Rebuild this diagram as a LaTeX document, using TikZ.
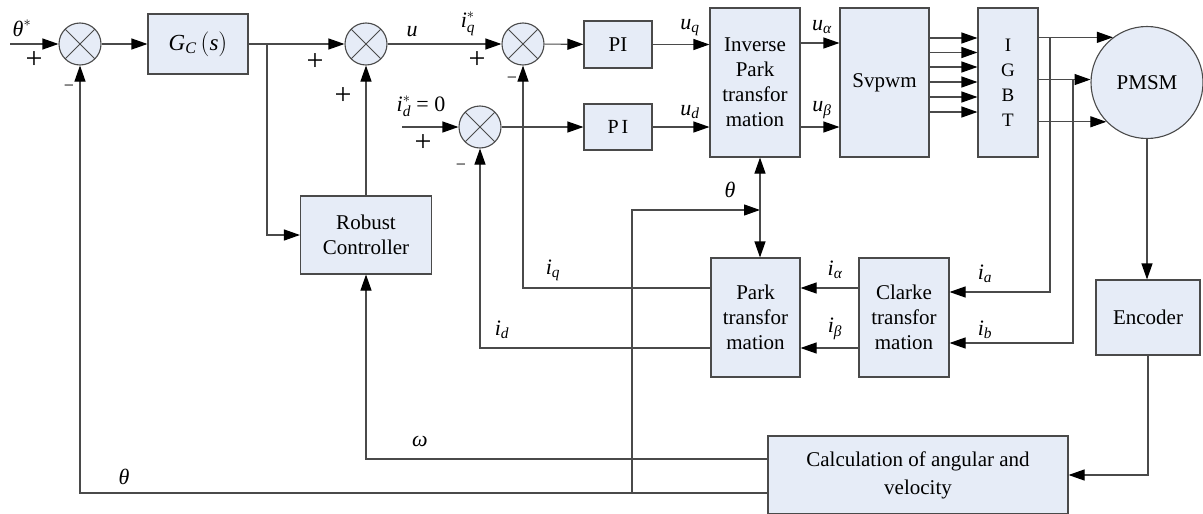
\documentclass[tikz,border=0pt]{standalone}
\usepackage{amsmath}
\usepackage{fontspec}
\setmainfont{Liberation Serif}
\usetikzlibrary{arrows.meta,calc}
\definecolor{boxfill}{HTML}{E6ECF7}
\definecolor{lin}{HTML}{4A4A4A}
\newcommand{\mi}[1]{\textit{#1}}
\tikzset{
  blk/.style={draw=lin, fill=boxfill, line width=1.1pt, inner sep=0pt, align=center,
    font=\fontsize{21}{25}\selectfont},
  sumj/.style={circle, draw=lin, fill=boxfill, line width=1.1pt, minimum size=42pt, inner sep=0pt,
    path picture={
      \draw[lin, line width=0.9pt] ([shift={(45:21pt)}]path picture bounding box.center) -- ([shift={(225:21pt)}]path picture bounding box.center);
      \draw[lin, line width=0.9pt] ([shift={(135:21pt)}]path picture bounding box.center) -- ([shift={(315:21pt)}]path picture bounding box.center);
    }},
  tip/.tip={Triangle[length=16pt,width=11pt,color=black]},
  arr/.style={draw=lin, line width=1.1pt, -tip},
  arrb/.style={draw=lin, line width=1.1pt, tip-tip},
  lbl/.style={inner sep=0pt, font=\fontsize{22}{26}\selectfont},
  pls/.style={inner sep=0pt, font=\fontsize{30}{30}\selectfont},
  mns/.style={inner sep=0pt, font=\fontsize{18}{18}\selectfont},
}
\begin{document}
\begin{tikzpicture}[x=1pt,y=-1pt]
\useasboundingbox (0,0) rectangle (1203,514);
% blocks
\node[sumj] (S1) at (80,44) {};
\node[blk, minimum width=100pt, minimum height=60pt, font=\fontsize{23}{26}\selectfont] (Gc) at (198,44) {$\mi{G}_{\mi{C}}\,(\mi{s})$};
\node[sumj] (S2) at (366,44) {};
\node[blk, minimum width=131pt, minimum height=78pt] (RC) at (366,235) {Robust\\Controller};
\node[sumj] (S3) at (523,44) {};
\node[sumj] (S4) at (480,127) {};
\node[blk, minimum width=68pt, minimum height=47pt] (PI1) at (618,44.5) {PI};
\node[blk, minimum width=68pt, minimum height=46pt, font=\fontsize{20}{24}\selectfont] (PI2) at (618,127) {P\kern3pt I};
\node[blk, minimum width=90pt, minimum height=149pt] (IP) at (755,82.5) {Inverse\\Park\\transfor\\mation};
\node[blk, minimum width=89pt, minimum height=149pt] (SV) at (884.5,82.5) {Svpwm};
\node[blk, minimum width=60pt, minimum height=149pt, font=\fontsize{19}{25}\selectfont] (IGBT) at (1008,82.5) {I\\G\\B\\T};
\node[blk, circle, minimum size=112pt] (PM) at (1147,82.5) {PMSM};
\node[blk, minimum width=104pt, minimum height=75pt] (EN) at (1148,317.5) {Encoder};
\node[blk, minimum width=89pt, minimum height=119pt] (PK) at (755.5,317.5) {Park\\transfor\\mation};
\node[blk, minimum width=90pt, minimum height=119pt] (CL) at (904,317.5) {Clarke\\transfor\\mation};
\node[blk, minimum width=300pt, minimum height=78pt, font=\fontsize{21}{28}\selectfont] (CA) at (918,475) {Calculation of angular and\\velocity};
% coordinates
\coordinate (in) at (10,44);
\coordinate (b1) at (267,44);
\coordinate (idin) at (402,127);
\coordinate (tb) at (632,493);
\coordinate (tx) at (760,210);
\coordinate (ja) at (1050,38);
\coordinate (jb) at (1073,80);
% connectors
\draw[arr] (in) -- (S1.west);
\draw[arr] (S1) -- (Gc);
\draw[arr] (Gc) -- (S2);
\draw[arr] (b1) |- (RC.west);
\draw[arr] (RC.north) -- (S2.south);
\draw[arr] (S2) -- (S3);
\draw[arr] (S3) -- (PI1);
\draw[arr] (PI1.east) -- (IP.west |- PI1.east);
\draw[arr] (idin) -- (S4.west);
\draw[arr] (S4) -- (PI2);
\draw[arr] (PI2.east) -- (IP.west |- PI2.east);
\draw[arr] ([yshift=39.5pt]IP.east) -- ([yshift=39.5pt]SV.west);
\draw[arr] ([yshift=-44.5pt]IP.east) -- ([yshift=-44.5pt]SV.west);
\foreach \d in {44.5,30,15.5,0.5,-14.5,-29.5}{
  \draw[arr] ([yshift=\d pt]SV.east) -- ([yshift=\d pt]IGBT.west);
}
\draw[arr] (IGBT.east |- PM.127.4) -- (PM.127.4);
\draw[arr] (IGBT.east |- PM.177.4) -- (PM.177.4);
\draw[arr] (IGBT.east |- PM.224.9) -- (PM.224.9);
\draw[arr] (PM.south) -- (PM.south |- EN.north);
\draw[arr] (EN.south) |- (CA.east);
\draw[arr] ([yshift=16pt]CA.west) -| (RC.south);
\draw[arr] ([yshift=-18pt]CA.west) -| (S1.south);
\draw[arr] (tb) |- (tx);
\draw[arrb] (IP.south -| tx) -- (PK.north -| tx);
\draw[arr] ([yshift=29.5pt]PK.west) -| (S3.south);
\draw[arr] ([yshift=-30.5pt]PK.west) -| (S4.south);
\draw[arr] ([yshift=29.5pt]CL.west) -- ([yshift=29.5pt]PK.east);
\draw[arr] ([yshift=-30.5pt]CL.west) -- ([yshift=-30.5pt]PK.east);
\draw[arr] (ja) |- ([yshift=25.5pt]CL.east);
\draw[arr] (jb) |- ([yshift=-25.5pt]CL.east);
% labels
\node[lbl] (l1) at (22,28) {$\mi{θ}^{*}$};
\node[pls] (p1) at (34,60) {+};
\node[mns] (m1) at (69,88) {−};
\node[pls] (p2) at (315,62) {+};
\node[pls] (p3) at (343,96) {+};
\node[lbl] (l2) at (412,32) {$\mi{u}$};
\node[lbl] (l3) at (468,24) {$\mi{i}^{*}_{\mi{q}}$};
\node[pls] (p4) at (477,60) {+};
\node[mns] (m2) at (512,80) {−};
\node[lbl] (l4) at (421,106) {$\mi{i}^{*}_{\mi{d}}$ = 0};
\node[pls] (p5) at (423,143) {+};
\node[mns] (m3) at (461,167) {−};
\node[lbl] (l5) at (690,28) {$\mi{u}_{\mi{q}}$};
\node[lbl] (l6) at (690,112) {$\mi{u}_{\mi{d}}$};
\node[lbl] (l7) at (822,27) {$\mi{u}_{\mi{α}}$};
\node[lbl] (l8) at (822,110) {$\mi{u}_{\mi{β}}$};
\node[lbl] (l9) at (730,190) {$\mi{θ}$};
\node[lbl] (l10) at (553,270) {$\mi{i}_{\mi{q}}$};
\node[lbl] (l11) at (502,330) {$\mi{i}_{\mi{d}}$};
\node[lbl] (l12) at (835,270) {$\mi{i}_{\mi{α}}$};
\node[lbl] (l13) at (835,329) {$\mi{i}_{\mi{β}}$};
\node[lbl] (l14) at (985,274) {$\mi{i}_{\mi{a}}$};
\node[lbl] (l15) at (985,330) {$\mi{i}_{\mi{b}}$};
\node[lbl] (l16) at (420,441) {$\mi{ω}$};
\node[lbl] (l17) at (124,477) {$\mi{θ}$};
\end{tikzpicture}
\end{document}
